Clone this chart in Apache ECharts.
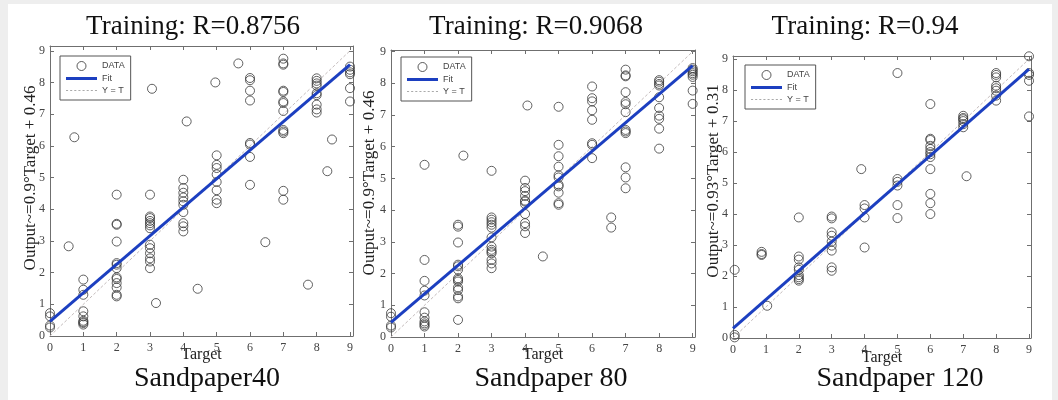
<!DOCTYPE html>
<html>
<head>
<meta charset="utf-8">
<script src="https://cdn.jsdelivr.net/npm/echarts@6/dist/echarts.min.js"></script>
<style>
html,body{margin:0;padding:0;background:#eeeeee;width:1058px;height:400px;overflow:hidden;}
#paper{position:absolute;left:8px;top:4px;width:1044px;height:396px;background:#ffffff;}
#chart{position:absolute;left:0;top:0;width:1058px;height:400px;}
</style>
</head>
<body>
<div id="paper"></div>
<div id="chart"></div>
<script>
// ---------- DATA ----------
const titles = ['Training: R=0.8756', 'Training: R=0.9068', 'Training: R=0.94'];
const captions = ['Sandpaper40', 'Sandpaper 80', 'Sandpaper 120'];
const yNames = ['Output~=0.9°Target + 0.46', 'Output~=0.9°Target + 0.46', 'Output~=0.93°Target + 0.31'];
const xName = 'Target';
const legendNames = ['DATA', 'Fit', 'Y = T'];

const sp40Points = [
  [0,0.72],[0,0.62],[0,0.33],[0,0.27],[0.56,2.83],[0.73,6.27],
  [1,1.78],[1,1.46],[1,1.3],[1,0.78],[1,0.62],[1,0.48],[1,0.44],[1,0.41],[1,0.36],
  [2,4.46],[2,3.54],[2,3.51],[2,2.98],[2,2.3],[2,2.25],[2,2.14],[2,1.85],[2,1.8],[2,1.67],[2,1.53],[2,1.3],[2,1.25],
  [3,4.46],[3,3.77],[3,3.72],[3,3.63],[3,3.56],[3,3.49],[3,3.4],[3,2.88],[3,2.77],[3,2.61],[3,2.45],[3,2.35],[3,2.14],
  [3.06,7.8],[3.18,1.04],
  [4,4.93],[4,4.67],[4,4.52],[4,4.37],[4,4.25],[4,4.14],[4,3.91],[4,3.56],[4,3.46],[4,3.3],
  [4.1,6.77],[4.43,1.49],
  [5,5.7],[5,5.4],[5,5.3],[5,5.1],[5,4.86],[5,4.6],[5,4.3],[5,4.19],[4.96,8.0],[5.65,8.6],
  [6,8.14],[6,8.07],[6,7.74],[6,7.43],[6,6.09],[6,6.04],[6,5.65],[6,4.77],[6.46,2.96],
  [7,8.75],[7,8.6],[7,8.56],[7,7.74],[7,7.7],[7,7.4],[7,7.35],[7,7.1],[7,6.5],[7,6.45],[7,6.4],[7,4.58],[7,4.3],
  [7.74,1.62],
  [8,8.13],[8,8.05],[8,7.97],[8,7.9],[8,7.66],[8,7.6],[8,7.3],[8,7.15],[8,7.05],[8.46,6.2],[8.32,5.2],
  [9,8.5],[9,8.4],[9,8.32],[9,8.26],[9,7.82],[9,7.4]
];
const sp80Points = [
  [0,0.75],[0,0.64],[0,0.36],[0,0.3],
  [1,5.43],[1,2.43],[1,1.77],[1,1.46],[1,1.31],[1,0.78],[1,0.61],[1,0.49],[1,0.43],[1,0.38],[1,0.33],
  [2.16,5.72],
  [2,3.54],[2,3.48],[2,2.98],[2,2.28],[2,2.23],[2,2.12],[2,1.85],[2,1.8],[2,1.75],[2,1.56],[2,1.48],[2,1.28],[2,1.22],[2,0.54],
  [3,5.24],[3,3.77],[3,3.7],[3,3.62],[3,3.54],[3,3.45],[3,3.14],[3,2.85],[3,2.75],[3,2.69],[3,2.64],[3,2.43],[3,2.32],[3,2.17],
  [4.07,7.3],[4,4.93],[4,4.7],[4,4.6],[4,4.45],[4,4.3],[4,4.27],[4,4.19],[4,3.88],[4,3.59],[4,3.49],[4,3.28],
  [4.53,2.54],
  [5,7.26],[5,6.06],[5,5.7],[5,5.37],[5,5.1],[5,5.03],[5,4.8],[5,4.75],[5,4.55],[5,4.22],[5,4.17],
  [6,7.9],[6,7.53],[6,7.43],[6,7.15],[6,6.85],[6,6.11],[6,6.06],[6,5.64],
  [6.57,3.77],[6.57,3.45],
  [7,8.43],[7,8.25],[7,8.22],[7,7.72],[7,7.41],[7,7.34],[7,7.09],[7,6.53],[7,6.48],[7,6.43],[7,5.35],[7,5.03],[7,4.69],
  [8,8.1],[8,8.05],[8,7.98],[8,7.93],[8,7.56],[8,7.22],[8,6.98],[8,6.88],[8,6.57],[8,5.94],
  [9,8.48],[9,8.43],[9,8.38],[9,8.32],[9,8.27],[9,8.2],[9,7.77],[9,7.35]
];
const sp120Points = [
  [0.05,2.2],[0.05,0.1],[0.05,0.02],
  [0.87,2.78],[0.87,2.71],[0.87,2.68],[1.04,1.04],
  [2,3.89],[2,2.63],[2,2.53],[2,2.28],[2,2.2],[2,2.03],[2,1.96],[2,1.9],[2,1.85],
  [3,3.92],[3,3.86],[3,3.41],[3,3.3],[3,3.11],[3,2.98],[3,2.82],[3,2.28],[3,2.17],
  [3.9,5.45],
  [4,4.29],[4,4.18],[4,3.89],[4,2.92],
  [5,8.55],[5,5.13],[5,5.04],[5,4.92],[5,4.29],[5,3.87],
  [6,7.55],[6,6.43],[6,6.39],[6,6.2],[6,6.1],[6,6.0],[6,5.93],[6,5.84],[6,5.45],[6,4.65],[6,4.35],[6,4.0],
  [7.1,5.22],
  [7,7.17],[7,7.1],[7,7.06],[7,7.0],[7,6.9],[7,6.8],
  [8,8.55],[8,8.49],[8,8.41],[8,8.14],[8,8.06],[8,7.98],[8,7.82],[8,7.66],
  [9,9.13],[9,9.09],[9,8.55],[9,8.49],[9,8.3],[9,7.15]
];
const fit40 = [[0,0.46],[9,8.56]];
const fit80 = [[0,0.46],[9,8.56]];
const fit120 = [[0,0.31],[9,8.68]];
const identityLine = [[0,0],[9,9]];
const xTicks = [0,1,2,3,4,5,6,7,8,9];
const yTicks = [0,1,2,3,4,5,6,7,8,9];

// ---------- LAYOUT ----------
const points = [sp40Points, sp80Points, sp120Points];
const fits = [fit40, fit80, fit120];
const layout = [
  {grid:{left:50, top:46, width:303, height:290}, xMax:9.09, yMax:9.15, legend:{left:60, top:56}, ylab:{x:31, y:178}, titleX:193, capX:207, nameGap:11},
  {grid:{left:391, top:50, width:304, height:287}, xMax:9.07, yMax:9.05, legend:{left:401, top:57}, ylab:{x:370, y:183}, titleX:536, capX:551, nameGap:10},
  {grid:{left:733, top:56, width:298, height:282}, xMax:9.06, yMax:9.1, legend:{left:745, top:65}, ylab:{x:714, y:181}, titleX:865, capX:900, nameGap:12}
];

const serif = 'Liberation Serif, Times New Roman, serif';
const axisColor = '#6f6f6f';
const fitColor = '#1c3fc0';
const idColor = '#c4bcbc';
const intLabel = v => (xTicks.indexOf(v) >= 0 || yTicks.indexOf(v) >= 0) ? String(v) : '';
const fitIcon = 'path://M0,0L31,0L31,3L0,3Z';
let dashPath = 'path://';
for (let k = 0; k < 31; k += 4) dashPath += 'M' + k + ',0L' + (k + 2) + ',0L' + (k + 2) + ',1L' + k + ',1Z';

const option = {
  animation: false,
  backgroundColor: 'transparent',
  title: [],
  grid: [],
  xAxis: [],
  yAxis: [],
  legend: [],
  series: [],
  graphic: []
};

layout.forEach((L, i) => {
  option.grid.push(Object.assign({show:false, containLabel:false}, L.grid));
  const common = {
    type:'value', gridIndex:i, min:0, interval:1,
    splitLine:{show:false},
    axisLine:{show:true, onZero:false, lineStyle:{color:axisColor, width:1}},
    axisTick:{show:true, inside:true, length:4, lineStyle:{color:axisColor}}
  };
  option.xAxis.push(Object.assign({}, common, {
    max:L.xMax, position:'bottom',
    name:xName, nameLocation:'middle', nameGap:L.nameGap, nameMoveOverlap:false,
    nameTextStyle:{fontFamily:serif, fontSize:16, color:'#222', verticalAlign:'top'},
    axisLabel:{show:true, margin:6, fontFamily:serif, fontSize:12, color:'#444', formatter:intLabel, showMaxLabel:true}
  }));
  option.yAxis.push(Object.assign({}, common, {
    max:L.yMax, position:'left',
    axisLabel:{show:true, margin:5, fontFamily:serif, fontSize:12, color:'#444', formatter:intLabel}
  }));
  option.title.push({text:titles[i], left:L.titleX, top:13, textAlign:'center', padding:0,
    textStyle:{fontFamily:serif, fontSize:27, fontWeight:'normal', color:'#111'}});
  option.title.push({text:captions[i], left:L.capX, top:365, textAlign:'center', padding:0,
    textStyle:{fontFamily:serif, fontSize:28, fontWeight:'normal', color:'#111'}});
  option.graphic.push({type:'text', x:L.ylab.x, y:L.ylab.y, rotation:Math.PI/2,
    style:{text:yNames[i], font:'17px ' + serif, fill:'#222', textAlign:'center', textVerticalAlign:'middle'}});
  option.legend.push({
    left:L.legend.left, top:L.legend.top, orient:'vertical',
    padding:[5,6,5,6], itemGap:3, itemWidth:31, itemHeight:9,
    backgroundColor:'#fff', borderColor:'#555', borderWidth:1, borderRadius:0,
    selectedMode:false,
    textStyle:{fontFamily:'Liberation Sans, Arial, sans-serif', fontSize:9, color:'#444'},
    data:[
      {name:legendNames[0], icon:'circle', itemStyle:{color:'rgba(0,0,0,0)', borderColor:'#333', borderWidth:1}},
      {name:legendNames[1], icon:fitIcon, itemStyle:{color:fitColor, borderWidth:0}},
      {name:legendNames[2], icon:dashPath, itemStyle:{color:'#aaa', borderWidth:0}}
    ]
  });
});
// mirrored top / right axes (tick marks only)
layout.forEach((L, i) => {
  option.xAxis.push({type:'value', gridIndex:i, min:0, max:L.xMax, interval:1, position:'top',
    splitLine:{show:false}, axisLabel:{show:false},
    axisLine:{show:true, onZero:false, lineStyle:{color:axisColor}},
    axisTick:{show:true, inside:true, length:4, lineStyle:{color:axisColor}}});
  option.yAxis.push({type:'value', gridIndex:i, min:0, max:L.yMax, interval:1, position:'right',
    splitLine:{show:false}, axisLabel:{show:false},
    axisLine:{show:true, onZero:false, lineStyle:{color:axisColor}},
    axisTick:{show:true, inside:true, length:4, lineStyle:{color:axisColor}}});
});

for (let i = 0; i < 3; i++) {
  option.series.push({
    name:legendNames[2], type:'line', xAxisIndex:i, yAxisIndex:i, data:identityLine,
    symbol:'none', silent:true, z:1,
    itemStyle:{color:idColor},
    lineStyle:{color:idColor, width:1, type:[3,2]}
  });
  option.series.push({
    name:legendNames[0], type:'scatter', xAxisIndex:i, yAxisIndex:i, data:points[i],
    symbol:'circle', symbolSize:9, z:2,
    itemStyle:{color:'rgba(0,0,0,0)', borderColor:'#3a3a3a', borderWidth:1}
  });
  option.series.push({
    name:legendNames[1], type:'line', xAxisIndex:i, yAxisIndex:i, data:fits[i],
    symbol:'none', silent:true, z:3,
    itemStyle:{color:fitColor},
    lineStyle:{color:fitColor, width:3}
  });
}

const chart = echarts.init(document.getElementById('chart'), null, {renderer:'canvas'});
chart.setOption(option);
</script>
</body>
</html>
